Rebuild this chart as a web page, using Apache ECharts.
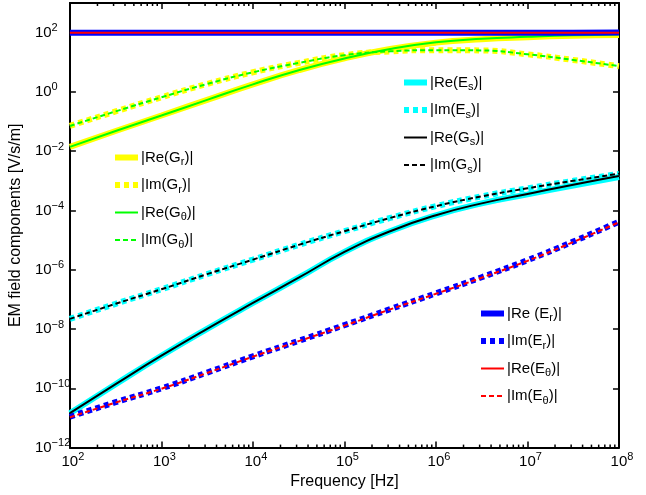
<!DOCTYPE html>
<html>
<head>
<meta charset="utf-8">
<script src="https://cdn.jsdelivr.net/npm/echarts@6/dist/echarts.min.js"></script>
<style>
  html, body { margin: 0; padding: 0; background: #fff; }
  #chart { width: 646px; height: 495px; }
</style>
</head>
<body>
<div id="chart"></div>
<script>
  // frequencies (half decade steps), Hz
  const freq = [1e2, 3.16e2, 1e3, 3.16e3, 1e4, 3.16e4, 1e5, 3.16e5, 1e6, 3.16e6, 1e7, 3.16e7, 1e8]

  const reEs = [1.45e-11, 1.38e-10, 1.26e-9, 1.02e-8, 7.6e-8, 5.4e-7, 4.0e-6, 2.0e-5, 6.9e-5, 1.74e-4, 3.5e-4, 7.0e-4, 1.35e-3]
  const imEs = [2.2e-8, 7.1e-8, 2.2e-7, 7.1e-7, 2.2e-6, 6.9e-6, 2.0e-5, 5.6e-5, 1.4e-4, 3.0e-4, 5.6e-4, 1.0e-3, 1.7e-3]
  const reGs = [1.45e-11, 1.38e-10, 1.26e-9, 1.02e-8, 7.6e-8, 5.4e-7, 4.0e-6, 2.0e-5, 6.9e-5, 1.74e-4, 3.6e-4, 7.4e-4, 1.45e-3]
  const imGs = [2.2e-8, 7.1e-8, 2.2e-7, 7.1e-7, 2.2e-6, 6.9e-6, 2.0e-5, 5.6e-5, 1.4e-4, 3.0e-4, 5.6e-4, 1.0e-3, 1.75e-3]

  const reGr = [1.4e-2, 4.8e-2, 0.16, 0.54, 1.8, 5.4, 13.5, 28, 46, 60, 70, 78, 83]
  const imGr = [0.071, 0.22, 0.66, 1.86, 4.6, 9.5, 17.4, 23.4, 25.7, 25.1, 18.6, 12, 7.4]
  const reGt = [1.4e-2, 4.8e-2, 0.16, 0.54, 1.8, 5.4, 13.5, 28, 47, 62, 72, 81, 87]
  const imGt = [0.071, 0.22, 0.66, 1.86, 4.6, 9.5, 17.4, 23.4, 25.7, 25.1, 18.6, 12, 7.4]

  const reEr = [100, 100, 100, 100, 100, 100, 100, 100, 100, 100, 100, 100, 102]
  const imEr = [1.1e-11, 3.4e-11, 1e-10, 3.4e-10, 1.2e-9, 4e-9, 1.35e-8, 4.7e-8, 1.6e-7, 5.6e-7, 2.1e-6, 8.9e-6, 4.2e-5]
  const reEt = [100, 100, 100, 100, 100, 100, 100, 100, 100, 100, 100, 100, 100]
  const imEt = [1.05e-11, 3.3e-11, 0.97e-10, 3.3e-10, 1.17e-9, 3.9e-9, 1.3e-8, 4.6e-8, 1.55e-7, 5.4e-7, 2.0e-6, 8.6e-6, 4.0e-5]

  // axis ranges and minor ticks of the frequency axis
  const xMin = 1e2
  const xMax = 1e8
  const yMin = 1e-12
  const yMax = 1e3
  const decades = [1e2, 1e3, 1e4, 1e5, 1e6, 1e7]
  const minorMult = [2, 3, 4, 5, 6, 7, 8, 9]

  const minorTicks = []
  decades.forEach(d => minorMult.forEach(m => minorTicks.push([d * m, yMin])))

  const FONT = 'Liberation Sans, Arial, sans-serif'

  const pairs = arr => freq.map((f, i) => [f, arr[i]])

  const DOT = [5, 4]
  const DASH = [5, 3]

  // name -> [color, width, dash, legend text]
  const styles = {
    'Re(Es)': ['#00ffff', 6, 'solid', '|Re(E{sub|s})|'],
    'Im(Es)': ['#00ffff', 6, DOT, '|Im(E{sub|s})|'],
    'Re(Gs)': ['#000000', 2, 'solid', '|Re(G{sub|s})|'],
    'Im(Gs)': ['#000000', 2, DASH, '|Im(G{sub|s})|'],
    'Re(Gr)': ['#ffff00', 6, 'solid', '|Re(G{sub|r})|'],
    'Im(Gr)': ['#ffff00', 6, DOT, '|Im(G{sub|r})|'],
    'Re(Gt)': ['#00ff00', 2, 'solid', '|Re(G{sub|θ})|'],
    'Im(Gt)': ['#00ff00', 2, DASH, '|Im(G{sub|θ})|'],
    'Re(Er)': ['#0000ff', 6, 'solid', '|Re (E{sub|r})|'],
    'Im(Er)': ['#0000ff', 6, DOT, '|Im(E{sub|r})|'],
    'Re(Et)': ['#ff0000', 2, 'solid', '|Re(E{sub|θ})|'],
    'Im(Et)': ['#ff0000', 2, DASH, '|Im(E{sub|θ})|'],
  }

  function line(name, data, z) {
    const s = styles[name]
    return {
      name: name,
      type: 'line',
      data: pairs(data),
      symbol: 'none',
      showSymbol: false,
      smooth: 0.5,
      z: z,
      lineStyle: { color: s[0], width: s[1], type: s[2], cap: 'butt' },
      itemStyle: { color: s[0] },
      emphasis: { disabled: true },
    }
  }

  function legend(names, left, top) {
    return {
      data: names.map(n => ({
        name: n,
        itemStyle: { opacity: 0 },
        lineStyle: { color: styles[n][0], width: styles[n][1], type: styles[n][2], cap: 'butt' },
      })),
      orient: 'vertical',
      left: left,
      top: top,
      itemWidth: 23,
      itemHeight: 12,
      itemGap: 10,
      padding: 0,
      selectedMode: false,
      formatter: n => styles[n][3],
      textStyle: {
        fontFamily: FONT,
        fontSize: 15,
        color: '#000',
        padding: [0, 0, 0, -2],
        rich: {
          sub: { fontSize: 11, fontFamily: FONT, color: '#000', verticalAlign: 'bottom', padding: [9, 0, 0, 0] },
        },
      },
    }
  }

  const expo = v => {
    const e = Math.round(Math.log10(v))
    return e < 0 ? '−' + (-e) : '' + e
  }

  const chart = echarts.init(document.getElementById('chart'))

  chart.setOption({
    animation: false,
    backgroundColor: '#fff',
    grid: { left: 68, right: 27, top: 3, bottom: 46 },
    legend: [
      legend(['Re(Gr)', 'Im(Gr)', 'Re(Gt)', 'Im(Gt)'], 112, 150),
      legend(['Re(Es)', 'Im(Es)', 'Re(Gs)', 'Im(Gs)'], 401, 75),
      legend(['Re(Er)', 'Im(Er)', 'Re(Et)', 'Im(Et)'], 478, 306),
    ],
    xAxis: [
      {
        type: 'log',
        logBase: 10,
        min: xMin,
        max: xMax,
        interval: 1,
        name: 'Frequency [Hz]',
        nameLocation: 'middle',
        nameGap: 24,
        nameTextStyle: { fontFamily: FONT, fontSize: 16, color: '#000' },
        axisLine: { lineStyle: { color: '#000', width: 2 } },
        axisTick: { inside: true, length: 6, lineStyle: { color: '#000', width: 1.5 } },
        splitLine: { show: false },
        axisLabel: {
          margin: 4,
          formatter: v => '{b|10}{sup|' + expo(v) + '}',
          rich: {
            b: { fontFamily: FONT, fontSize: 15, color: '#000', padding: [0, 0, 0, 6] },
            sup: { fontFamily: FONT, fontSize: 11, color: '#000', verticalAlign: 'bottom', padding: [0, 0, 9, 0] },
          },
        },
      },
      {
        type: 'log',
        logBase: 10,
        position: 'top',
        min: xMin,
        max: xMax,
        interval: 1,
        axisLine: { lineStyle: { color: '#000', width: 2 } },
        axisTick: { inside: true, length: 6, lineStyle: { color: '#000', width: 1.5 } },
        axisLabel: { show: false },
        splitLine: { show: false },
      },
    ],
    yAxis: [
      {
        type: 'log',
        logBase: 10,
        min: yMin,
        max: yMax,
        interval: 2,
        name: 'EM field components [V/s/m]',
        nameLocation: 'middle',
        nameGap: 35,
        nameTextStyle: { fontFamily: FONT, fontSize: 16, color: '#000' },
        axisLine: { show: true, lineStyle: { color: '#000', width: 2 } },
        axisTick: { show: true, inside: true, length: 6, lineStyle: { color: '#000', width: 1.5 } },
        splitLine: { show: false },
        axisLabel: {
          margin: 35,
          align: 'left',
          formatter: v => {
            const e = Math.round(Math.log10(v))
            if (e % 2 !== 0) return ''
            return '{b|10}{sup|' + expo(v) + '}'
          },
          rich: {
            b: { fontFamily: FONT, fontSize: 15, color: '#000' },
            sup: { fontFamily: FONT, fontSize: 11, color: '#000', verticalAlign: 'bottom', padding: [0, 0, 9, 0] },
          },
        },
      },
      {
        type: 'log',
        logBase: 10,
        position: 'right',
        min: yMin,
        max: yMax,
        interval: 2,
        axisLine: { show: true, lineStyle: { color: '#000', width: 2 } },
        axisTick: { show: true, inside: true, length: 6, lineStyle: { color: '#000', width: 1.5 } },
        axisLabel: { show: false },
        splitLine: { show: false },
      },
    ],
    series: [
      line('Re(Es)', reEs, 2),
      line('Im(Es)', imEs, 2),
      line('Re(Gs)', reGs, 3),
      line('Im(Gs)', imGs, 3),
      line('Re(Gr)', reGr, 2),
      line('Im(Gr)', imGr, 2),
      line('Re(Gt)', reGt, 3),
      line('Im(Gt)', imGt, 3),
      line('Re(Er)', reEr, 4),
      line('Im(Er)', imEr, 2),
      line('Re(Et)', reEt, 5),
      line('Im(Et)', imEt, 3),
      {
        // log-spaced minor ticks on bottom and top frame
        type: 'custom',
        silent: true,
        data: minorTicks,
        clip: false,
        z: 10,
        renderItem(params, api) {
          const pb = api.coord([api.value(0), yMin])
          const pt = api.coord([api.value(0), yMax])
          return {
            type: 'group',
            children: [
              { type: 'line', shape: { x1: pb[0], y1: pb[1], x2: pb[0], y2: pb[1] - 3 }, style: { stroke: '#000', lineWidth: 1.5 } },
              { type: 'line', shape: { x1: pt[0], y1: pt[1], x2: pt[0], y2: pt[1] + 3 }, style: { stroke: '#000', lineWidth: 1.5 } },
            ],
          }
        },
      },
    ],
  })
</script>
</body>
</html>
